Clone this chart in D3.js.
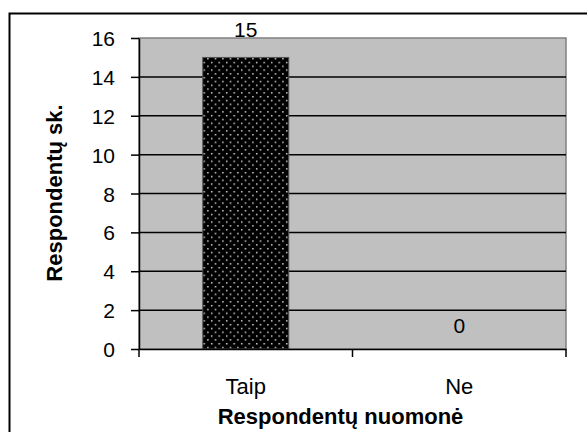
<!DOCTYPE html>
<html><head><meta charset="utf-8">
<script src="https://cdn.jsdelivr.net/npm/d3@7"></script>
<style>body{margin:0;background:#fff}svg{display:block}text{font-family:"Liberation Sans",Arial,sans-serif}</style>
</head><body><svg id="c" width="587" height="432"></svg>
<script>
const categories = ["Taip", "Ne"];
const values = [15, 0];
const yTicks = [0, 2, 4, 6, 8, 10, 12, 14, 16];
const yTitle = "Respondentų sk.";
const xTitle = "Respondentų nuomonė";

const svg = d3.select("#c");
const m = {left: 139, right: 566, top: 38, bottom: 349};
const FS = 21, FC = 22, FT = 22;

// outer frame
svg.append("rect").attr("x", 9.5).attr("y", 13.5).attr("width", 600).attr("height", 440)
  .attr("fill", "none").attr("stroke", "#000").attr("stroke-width", 2);

const x = d3.scaleBand().domain(categories).range([m.left, m.right]).paddingInner(0).paddingOuter(0);
const y = d3.scaleLinear().domain([0, 16]).range([m.bottom, m.top]);

const defs = svg.append("defs");
const pat = defs.append("pattern").attr("id", "dots").attr("patternUnits", "userSpaceOnUse")
  .attr("width", 7.5).attr("height", 7.6).attr("x", 0).attr("y", 0);
pat.append("rect").attr("width", 7.5).attr("height", 7.6).attr("fill", "#000");
pat.append("rect").attr("x", 1).attr("y", 1).attr("width", 1.4).attr("height", 1.4).attr("fill", "#eee");
pat.append("rect").attr("x", 4.75).attr("y", 4.8).attr("width", 1.4).attr("height", 1.4).attr("fill", "#eee");

// plot background
svg.append("rect").attr("x", m.left).attr("y", m.top).attr("width", m.right - m.left).attr("height", m.bottom - m.top)
  .attr("fill", "#c0c0c0").attr("stroke", "#808080").attr("stroke-width", 1.5);

// gridlines
svg.append("g").selectAll("line").data(yTicks.filter(d => d > 0 && d < 16)).join("line")
  .attr("x1", m.left).attr("x2", m.right).attr("y1", d => y(d)).attr("y2", d => y(d))
  .attr("stroke", "#000").attr("stroke-width", 1.5);

// bars
const bw = 86;
svg.append("g").selectAll("rect").data(values).join("rect")
  .attr("x", (d, i) => x(categories[i]) + x.bandwidth() / 2 - bw / 2)
  .attr("width", bw)
  .attr("y", d => y(d)).attr("height", d => y(0) - y(d))
  .attr("fill", "url(#dots)").attr("stroke", "#555").attr("stroke-width", 1);

// y axis
const ya = svg.append("g").attr("transform", `translate(${m.left},0)`)
  .call(d3.axisLeft(y).tickValues(yTicks).tickSize(8).tickPadding(16).tickSizeOuter(0));
ya.attr("font-size", null).attr("font-family", null);
ya.select(".domain").attr("stroke", "#000").attr("stroke-width", 1.5);
ya.selectAll(".tick line").attr("stroke", "#000").attr("stroke-width", 1.5);
ya.selectAll(".tick text").attr("font-size", FS).attr("fill", "#000").attr("dy", "0.36em");

// x axis
const xa = svg.append("g").attr("transform", `translate(0,${m.bottom})`)
  .call(d3.axisBottom(x).tickSize(0).tickPadding(29));
xa.attr("font-size", null).attr("font-family", null);
xa.select(".domain").attr("stroke", "#000").attr("stroke-width", 1.5);
xa.selectAll(".tick text").attr("font-size", FC).attr("fill", "#000");
const xb = [m.left, m.left + x.bandwidth(), m.right];
svg.append("g").selectAll("line").data(xb).join("line")
  .attr("x1", d => d).attr("x2", d => d).attr("y1", m.bottom).attr("y2", m.bottom + 8)
  .attr("stroke", "#000").attr("stroke-width", 1.5);

// data labels
svg.append("g").selectAll("text").data(values).join("text")
  .attr("x", (d, i) => x(categories[i]) + x.bandwidth() / 2)
  .attr("y", d => d === 0 ? y(d) - 16 : y(d) - 20)
  .attr("text-anchor", "middle").attr("font-size", FS).attr("fill", "#000")
  .text(d => d);

// titles
svg.append("text").attr("x", 340.5).attr("y", 424).attr("text-anchor", "middle")
  .attr("font-size", FT).attr("font-weight", "bold").text(xTitle);
svg.append("text").attr("transform", "translate(62,193) rotate(-90)").attr("text-anchor", "middle")
  .attr("font-size", FT).attr("font-weight", "bold").text(yTitle);
</script></body></html>
